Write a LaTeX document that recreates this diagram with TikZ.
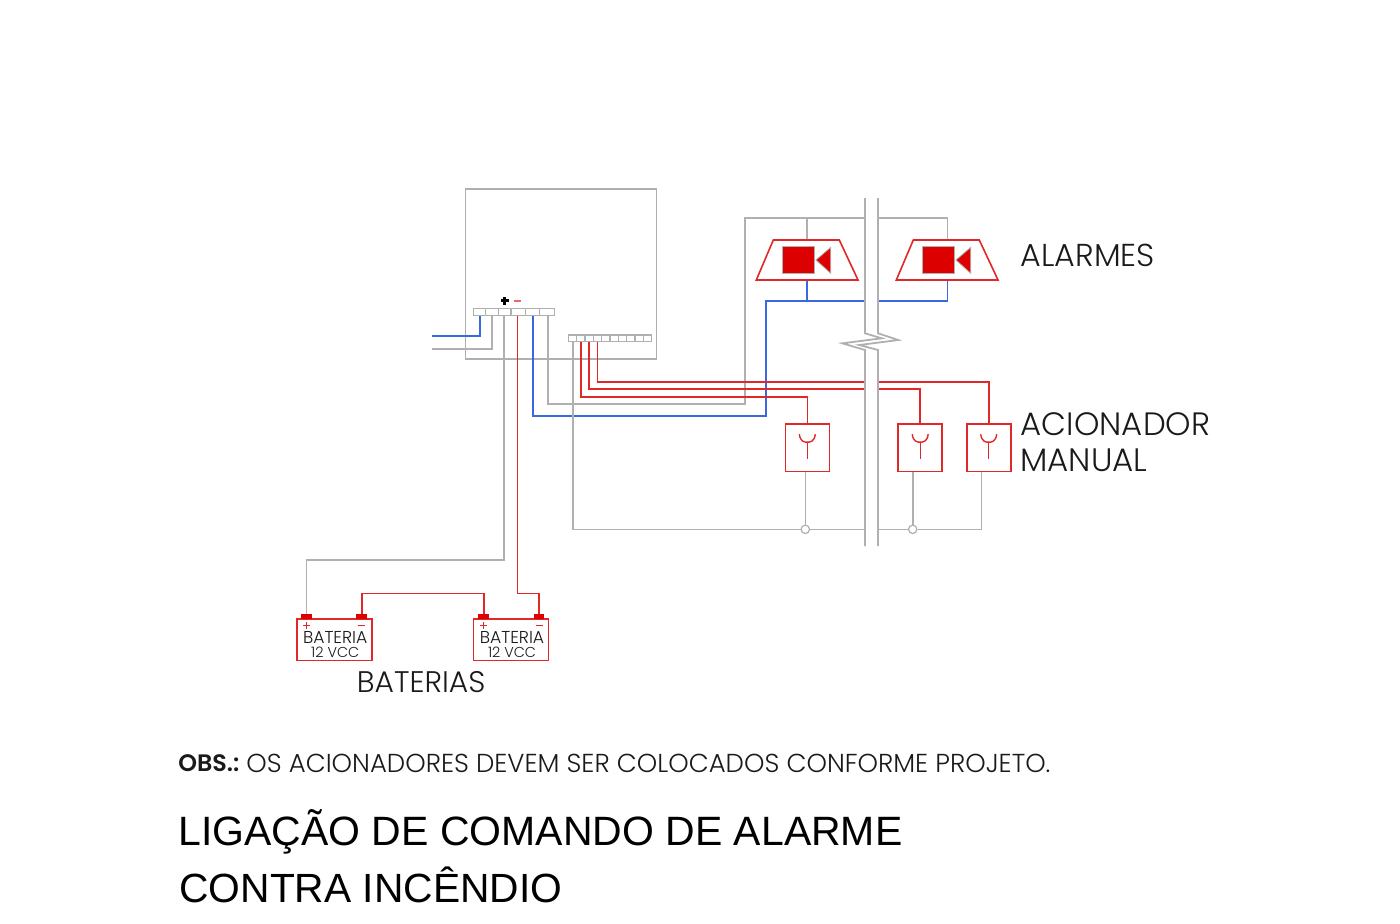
\documentclass[tikz,border=0pt]{standalone}
\usepackage{graphicx}
\usepackage{fontspec}
\setmainfont{Liberation Sans}
\newfontfamily\gothic{Poppins Light}
\newfontfamily\gothicb{Poppins SemiBold}
\newcommand{\fitw}[2]{\resizebox{#1pt}{!}{#2}}
\definecolor{wred}{HTML}{E02828}
\definecolor{fillred}{HTML}{DD0000}
\definecolor{wgray}{HTML}{B0B0B0}
\definecolor{wblue}{HTML}{3A68E0}
\definecolor{txt}{HTML}{1A1A1A}
\tikzset{
  redw/.style={draw=wred,line width=0.8pt},
  grayw/.style={draw=wgray,line width=0.8pt},
  bluew/.style={draw=wblue,line width=0.8pt},
  rail/.style={draw=wgray,line width=0.9pt},
  strip/.style={draw=wgray,line width=0.7pt,fill=white},
  acbox/.style={draw=wred,line width=0.8pt,inner sep=0pt,minimum width=22pt,minimum height=23.6pt},
  batbox/.style={draw=wred,line width=0.8pt,inner sep=0pt,minimum width=37.5pt,minimum height=20.6pt},
  post/.style={fill=fillred,draw=none,inner sep=0pt,minimum width=5.3pt,minimum height=2.4pt},
  joint/.style={circle,draw=wgray,line width=0.6pt,fill=white,inner sep=0pt,minimum size=4.2pt},
  lbl/.style={inner sep=0pt,anchor=west,text=txt},
  ctr/.style={inner sep=0pt,anchor=center,text=txt}
}
\begin{document}
\begin{tikzpicture}[x=0.5pt,y=-0.5pt,line join=miter]
\useasboundingbox (0,0) rectangle (1400,923);
% panel
\draw[draw=wgray,line width=0.8pt] (465.3,189) rectangle (656.3,359);
% named terminals
\coordinate (a) at (479.7,315);
\coordinate (b) at (492,315);
\coordinate (c) at (504,315);
\coordinate (d) at (517.3,315);
\coordinate (e) at (533,315);
\coordinate (f) at (548,315);
\coordinate (g) at (572.7,341.7);
\coordinate (h) at (580.7,341.7);
\coordinate (i) at (589,341.7);
\coordinate (j) at (597.3,341.7);
\coordinate (inb) at (431.7,336);
\coordinate (ing) at (431.7,348.7);
\coordinate (railLT) at (865,218);
\coordinate (railRT) at (878,218);
\coordinate (railLB) at (865,300.7);
\coordinate (railRB) at (878,300.7);
% actuators
\node[acbox] (ac1) at (807.3,447.7) {};
\node[acbox] (ac2) at (920.2,447.7) {};
\node[acbox] (ac3) at (988.7,447.7) {};
% batteries
\node[batbox] (bat1) at (334.2,639.7) {};
\node[batbox] (bat2) at (511,639.7) {};
\node[post] (p1) at (306.5,616.7) {};
\node[post] (n1) at (361.7,616.7) {};
\node[post] (p2) at (483.7,616.7) {};
\node[post] (n2) at (539,616.7) {};
% joints
\node[joint] (j1) at (805.3,529.3) {};
\node[joint] (j2) at (912.7,529.3) {};
% wires
\draw[bluew] (inb) -| (a);
\draw[grayw] (ing) -| (b);
\draw[grayw] (c) -- (504,560) -| (p1.north);
\draw[redw] (d) -- (517.3,593.3) -| (n2.north);
\draw[redw] (n1.north) -- (361.7,593.3) -| (p2.north);
\draw[bluew] (e) |- (765.7,415.7) -- (765.7,300.7) -- (railLB);
\draw[bluew] (807,280) -- (807,300.7);
\draw[bluew] (railRB) -| (947.3,280);
\draw[grayw] (f) |- (744.7,403.7) |- (railLT);
\draw[grayw] (807,218) -- (807,240);
\draw[grayw] (railRT) -| (947.3,240);
\draw[redw] (h) |- (807.3,396.7) -- (ac1.north);
\draw[redw] (i) |- (865,389);
\draw[redw] (878,389) -| (ac2.north);
\draw[redw] (j) |- (865,381.7);
\draw[redw] (878,381.7) -| (ac3.north);
\draw[grayw] (g) |- (j1.west);
\draw[grayw] (j1.east) -- (865,529.3);
\draw[grayw] (878,529.3) -- (j2.west);
\draw[grayw] (j2.east) -- (981.3,529.3) -- (981.3,471.5);
\draw[grayw] (j1.north) -- (805.3,471.5);
\draw[grayw] (j2.north) -- (912.7,471.5);
% rails with break
\draw[rail] (865,198) -- (865,333.3) -- (881.7,338.3) -- (842.3,343.3) -- (865,350) -- (865,546);
\draw[rail] (878,198) -- (878,333.3) -- (898.3,340) -- (859.3,345) -- (878,350) -- (878,546);
% terminal strips
\draw[strip] (473.3,308.7) rectangle (554.3,315.3);
\foreach \xx in {485.7,498.3,511,525.3,539.7} \draw[strip] (\xx,308.7) -- (\xx,315.3);
\draw[strip] (568.3,335) rectangle (651.7,341.7);
\foreach \n in {1,...,9} \draw[strip] ({568.3+\n*8.34},335) -- ({568.3+\n*8.34},341.7);
\draw[line width=1.6pt,black] (500.9,300.7) -- (508.5,300.7) (504.7,296.9) -- (504.7,304.5);
\draw[line width=0.8pt,wred!70] (514.2,300.7) -- (520.6,300.7);
% sirens
\foreach \dx in {0,140}{
  \begin{scope}[xshift=\dx*0.5pt]
  \draw[redw] (773.3,240) -- (839.3,240) -- (858,280) -- (756.3,280) -- cycle;
  \draw[draw=wgray,line width=0.4pt,fill=fillred] (782.3,246) rectangle (814.7,273.7);
  \draw[draw=wgray,line width=0.4pt,fill=fillred] (816,260) -- (830.7,247.3) -- (830.7,273.3) -- cycle;
  \end{scope}
}
% actuator symbols
\foreach \n in {ac1,ac2,ac3}{
  \draw[draw=wred,line width=0.7pt] ([shift={(-8,-13.5)}]\n.center) .. controls ([shift={(-7,-6)}]\n.center) and ([shift={(-3,-5.5)}]\n.center) .. ([shift={(0,-5.5)}]\n.center) .. controls ([shift={(3,-5.5)}]\n.center) and ([shift={(7,-6)}]\n.center) .. ([shift={(8,-13.5)}]\n.center);
  \draw[draw=wred,line width=0.7pt] ([shift={(0,-5.5)}]\n.center) -- ([shift={(0,11.5)}]\n.center);
}
% battery signs and text
\foreach \bb/\pp/\nn in {bat1/p1/n1,bat2/p2/n2}{
  \draw[draw=wred,line width=0.6pt] ([shift={(-3.5,9)}]\pp.center) -- ([shift={(3.5,9)}]\pp.center) ([shift={(0,5.5)}]\pp.center) -- ([shift={(0,12.5)}]\pp.center);
  \draw[draw=wred,line width=0.6pt] ([shift={(-3.5,9)}]\nn.center) -- ([shift={(3.5,9)}]\nn.center);
  \node[ctr] (t\bb) at ([shift={(1,-2.5)}]\bb.center) {\fitw{32.2}{\gothic BATERIA}};
  \node[ctr] (v\bb) at ([shift={(1,12.5)}]\bb.center) {\fitw{24}{\gothic 12 VCC}};
}
% labels
\node[lbl] (l1) at (1020.5,255) {\fitw{67}{\gothic ALARMES}};
\node[lbl] (l2) at (1020.5,424) {\fitw{94.7}{\gothic ACIONADOR}};
\node[lbl] (l3) at (1020,460) {\fitw{63.5}{\gothic MANUAL}};
\node[lbl] (l4) at (356.5,682) {\fitw{64.2}{\gothic BATERIAS}};
\node[lbl] (l5a) at (178,763) {\fitw{30.5}{\gothicb OBS.:}};
\node[lbl] (l5b) at (246,763) {\fitw{402}{\gothic OS ACIONADORES DEVEM SER COLOCADOS CONFORME PROJETO.}};
\node[lbl,text=black] (l6) at (178,832) {\fitw{362}{LIGAÇÃO DE COMANDO DE ALARME}};
\node[lbl,text=black] (l7) at (179,885) {\fitw{191.5}{CONTRA INCÊNDIO}};
\end{tikzpicture}
\end{document}
